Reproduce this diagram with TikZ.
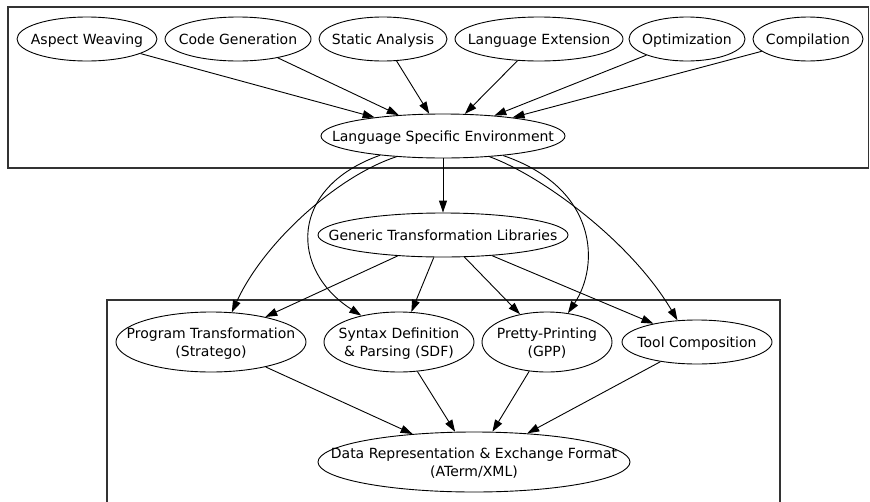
\documentclass[tikz,border=0pt]{standalone}
\usepackage{fontspec}
\setmainfont{DejaVu Sans}
\usetikzlibrary{shapes.geometric,arrows.meta}
\newcommand\elab[1]{\makebox[0pt]{\raisebox{-2pt}[\height][\depth]{\begin{tabular}{@{}c@{}}#1\end{tabular}}}}
\begin{document}
\begin{tikzpicture}[x=1pt,y=-1pt,font=\fontsize{14}{18}\selectfont,
  box/.style={draw,ellipse,inner sep=0pt,line width=0.9pt},
  edge/.style={-{Triangle[length=12pt,width=8pt]},line width=0.9pt},
  cluster/.style={draw=black!80,line width=1.2pt}]
\useasboundingbox (0,0) rectangle (870,501);
\draw[cluster] (8,7) rectangle (868.5,168);
\draw[cluster] (107,300) rectangle (780,520);
% top row
\foreach \n/\x/\w/\t in {aw/87/140/Aspect Weaving,cg/238/146/Code Generation,sa/383/128/Static Analysis,le/539/168/Language Extension,op/687/116/Optimization,co/808/110/Compilation}
  \node[box,minimum width=\w pt,minimum height=44pt] (\n) at (\x,39) {\elab{\t}};
\node[box,minimum width=244pt,minimum height=44pt] (lse) at (443,136) {\elab{Language Specific Environment}};
\node[box,minimum width=250pt,minimum height=44pt] (gtl) at (443,235) {\elab{Generic Transformation Libraries}};
% bottom row
\node[box,minimum width=190pt,minimum height=60pt] (pt) at (211,342) {\elab{Program Transformation\\(Stratego)}};
\node[box,minimum width=150pt,minimum height=60pt] (sdf) at (399,342) {\elab{Syntax Definition\\\& Parsing (SDF)}};
\node[box,minimum width=130pt,minimum height=60pt] (gpp) at (547,342) {\elab{Pretty-Printing\\(GPP)}};
\node[box,minimum width=150pt,minimum height=44pt] (tc) at (697,342) {\elab{Tool Composition}};
\node[box,minimum width=312pt,minimum height=60pt] (data) at (474,462) {\elab{Data Representation \& Exchange Format\\(ATerm/XML)}};
\foreach \n in {aw,cg,sa,le,op,co} \draw[edge] (\n) -- (lse);
\draw[edge] (lse) -- (gtl);
\draw[edge] (lse.204) .. controls (340,175) and (265,240) .. (pt.55);
\draw[edge] (lse.197) .. controls (288,188) and (290,270) .. (sdf.145);
\draw[edge] (lse.-18) .. controls (598,188) and (600,265) .. (gpp.54);
\draw[edge] (lse.-24) .. controls (540,175) and (630,240) .. (tc.132);
\foreach \n in {pt,sdf,gpp,tc} \draw[edge] (gtl) -- (\n);
\foreach \n in {pt,sdf,gpp,tc} \draw[edge] (\n) -- (data);
\end{tikzpicture}
\end{document}
